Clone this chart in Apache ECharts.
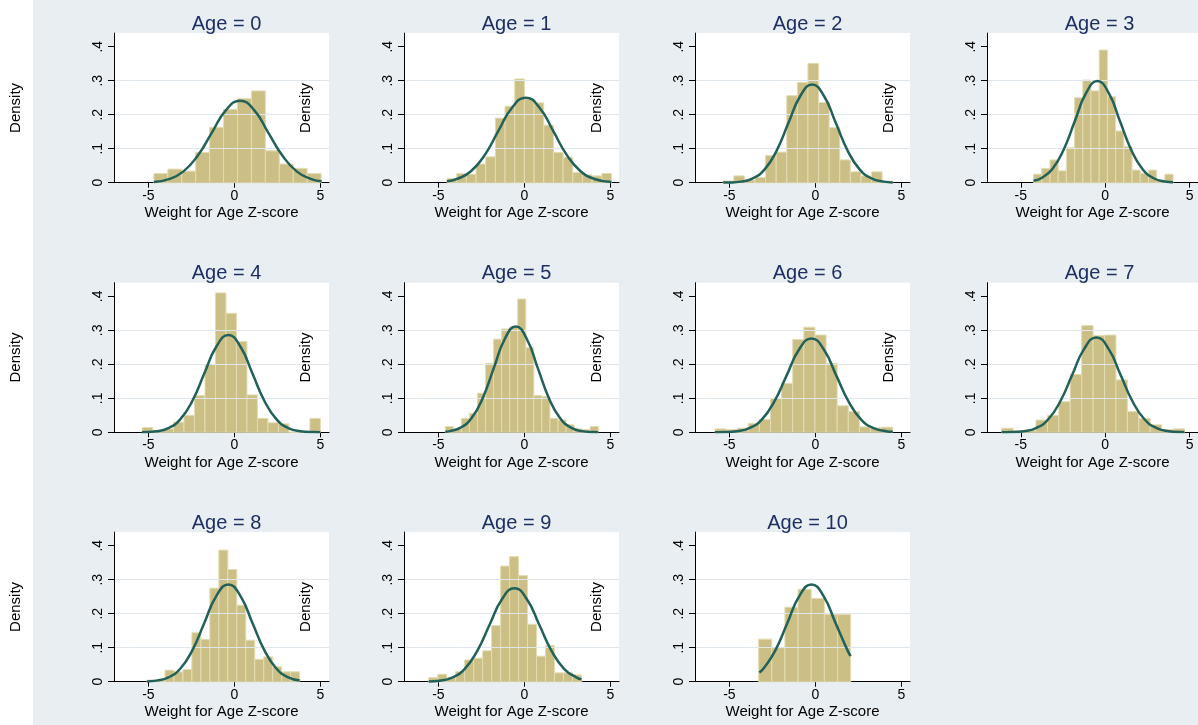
<!DOCTYPE html>
<html>
<head>
<meta charset="utf-8">
<script src="https://cdn.jsdelivr.net/npm/echarts@6/dist/echarts.min.js"></script>
<style>
html,body{margin:0;padding:0;background:#e8eef2;}
#chart{width:1198px;height:725px;}
</style>
</head>
<body>
<div id="chart"></div>
<script>
// ---- data ----
const ages = ['0','1','2','3','4','5','6','7','8','9','10'];
const xTicks = [-5, 0, 5];
const yTicks = [0, 0.1, 0.2, 0.3, 0.4];
const yTickLabels = ['0', '.1', '.2', '.3', '.4'];
const xTitle = 'Weight for Age Z-score';
const yTitle = 'Density';

// histogram bins: first bin edge and bin width per panel
const binStart = [-4.68, -4.5, -5.36, -4.24, -5.37, -4.6, -5.84, -6.13, -5.08, -5.56, -3.3];
const binWidth = [0.81, 0.5625, 0.616, 0.486, 0.61, 0.468, 0.646, 0.677, 0.522, 0.522, 0.764];

const hist0 = [0.027, 0.04, 0.034, 0.089, 0.163, 0.216, 0.247, 0.27, 0.094, 0.055, 0.042, 0.027];
const hist1 = [0.012, 0.027, 0.025, 0.055, 0.076, 0.19, 0.225, 0.305, 0.245, 0.235, 0.169, 0.089, 0.075, 0.03, 0.023, 0.02, 0.027];
const hist2 = [0.005, 0.02, 0.008, 0.015, 0.08, 0.09, 0.256, 0.295, 0.351, 0.236, 0.162, 0.067, 0.032, 0.02, 0.032, 0.004];
const hist3 = [0.025, 0.042, 0.067, 0.035, 0.103, 0.25, 0.302, 0.27, 0.39, 0.253, 0.152, 0.106, 0.037, 0.027, 0.037, 0.008, 0.025];
const hist4 = [0.014, 0.006, 0.01, 0.03, 0.05, 0.108, 0.2, 0.41, 0.35, 0.267, 0.11, 0.041, 0.028, 0.025, 0, 0, 0.041];
const hist5 = [0.017, 0.01, 0.041, 0.056, 0.115, 0.203, 0.274, 0.304, 0.31, 0.392, 0.249, 0.108, 0.105, 0.041, 0.036, 0.022, 0.01, 0.008, 0.017];
const hist6 = [0.01, 0.008, 0.012, 0.026, 0.038, 0.1, 0.144, 0.273, 0.309, 0.286, 0.203, 0.078, 0.061, 0.016, 0.013, 0.015];
const hist7 = [0.012, 0.005, 0.005, 0.036, 0.05, 0.09, 0.17, 0.314, 0.285, 0.286, 0.154, 0.061, 0.041, 0.022, 0.008, 0.01];
const hist8 = [0.005, 0.003, 0.034, 0.029, 0.036, 0.144, 0.124, 0.275, 0.387, 0.33, 0.225, 0.122, 0.066, 0.073, 0.044, 0.029, 0.029];
const hist9 = [0.012, 0.022, 0.012, 0.03, 0.064, 0.069, 0.091, 0.165, 0.34, 0.368, 0.312, 0.169, 0.075, 0.106, 0.026, 0.026, 0.02];
const hist10 = [0.125, 0.1, 0.219, 0.272, 0.245, 0.198, 0.198];

// normal density overlay
const curveX0 = [-4.68, -3.81, -2.98, -2.15, -1.325, -0.5, 0.33, 1.16, 1.985, 2.81, 3.64, 4.47, 5.07];
const curveY0 = [0.0024, 0.0106, 0.0326, 0.0783, 0.146, 0.2127, 0.241, 0.2127, 0.146, 0.0783, 0.0326, 0.0106, 0.004];
const curveX1 = [-4.5, -3.91, -3.11, -2.31, -1.52, -0.72, 0.08, 0.88, 1.68, 2.47, 3.27, 4.07, 5.06];
const curveY1 = [0.0041, 0.011, 0.0338, 0.0812, 0.1516, 0.2206, 0.25, 0.2206, 0.1516, 0.0812, 0.0338, 0.011, 0.0019];
const curveX2 = [-5.36, -5.02, -4.33, -3.64, -2.95, -2.26, -1.57, -0.88, -0.19, 0.5, 1.19, 1.88, 2.57, 3.26, 3.95, 4.5];
const curveY2 = [0.0003, 0.0006, 0.0032, 0.0127, 0.0391, 0.0938, 0.1753, 0.255, 0.289, 0.255, 0.1753, 0.0938, 0.0391, 0.0127, 0.0032, 0.0009];
const curveX3 = [-4.24, -3.795, -3.128, -2.46, -1.794, -1.127, -0.46, 0.207, 0.874, 1.54, 2.208, 2.875, 3.54, 4.02];
const curveY3 = [0.0055, 0.0131, 0.0405, 0.0971, 0.1813, 0.2639, 0.299, 0.2639, 0.1813, 0.0971, 0.0405, 0.0131, 0.0033, 0.0011];
const curveX4 = [-5.37, -4.53, -3.835, -3.138, -2.44, -1.744, -1.047, -0.35, 0.347, 1.044, 1.74, 2.438, 3.135, 3.83, 4.53, 5.0];
const curveY4 = [0.0004, 0.0032, 0.0126, 0.0387, 0.0929, 0.1735, 0.2524, 0.286, 0.2524, 0.1735, 0.0929, 0.0387, 0.0126, 0.0032, 0.0006, 0.0002];
const curveX5 = [-4.6, -4.35, -3.71, -3.07, -2.42, -1.78, -1.14, -0.5, 0.14, 0.78, 1.42, 2.07, 2.71, 3.35, 3.99, 4.29];
const curveY5 = [0.0019, 0.0035, 0.0137, 0.0421, 0.101, 0.1886, 0.2745, 0.311, 0.2745, 0.1886, 0.101, 0.0421, 0.0137, 0.0035, 0.0007, 0.0003];
const curveX6 = [-5.84, -5.28, -4.56, -3.84, -3.12, -2.4, -1.67, -0.95, -0.23, 0.49, 1.21, 1.94, 2.66, 3.38, 4.1, 4.5];
const curveY6 = [0.0001, 0.0006, 0.0031, 0.0121, 0.0373, 0.0896, 0.1674, 0.2436, 0.276, 0.2436, 0.1674, 0.0896, 0.0373, 0.0121, 0.0031, 0.0013];
const curveX7 = [-6.13, -5.525, -4.81, -4.095, -3.38, -2.665, -1.95, -1.235, -0.52, 0.195, 0.91, 1.625, 2.34, 3.055, 3.77, 4.485, 4.7];
const curveY7 = [0.0001, 0.0006, 0.0031, 0.0122, 0.0377, 0.0906, 0.1692, 0.2462, 0.279, 0.2462, 0.1692, 0.0906, 0.0377, 0.0122, 0.0031, 0.0006, 0.0004];
const curveX8 = [-5.08, -4.53, -3.835, -3.138, -2.44, -1.744, -1.047, -0.35, 0.347, 1.044, 1.74, 2.438, 3.135, 3.8];
const curveY8 = [0.0009, 0.0032, 0.0126, 0.0387, 0.0929, 0.1735, 0.2524, 0.286, 0.2524, 0.1735, 0.0929, 0.0387, 0.0126, 0.0034];
const curveX9 = [-5.56, -4.93, -4.205, -3.48, -2.755, -2.03, -1.305, -0.58, 0.145, 0.87, 1.595, 2.32, 3.045, 3.32];
const curveY9 = [0.0008, 0.003, 0.0121, 0.0372, 0.0893, 0.1668, 0.2427, 0.275, 0.2427, 0.1668, 0.0893, 0.0372, 0.0121, 0.0074];
const curveX10 = [-3.26, -3.018, -2.321, -1.624, -0.927, -0.23, 0.467, 1.164, 1.861, 2.05];
const curveY10 = [0.027, 0.0387, 0.0929, 0.1735, 0.2524, 0.286, 0.2524, 0.1735, 0.0929, 0.075];

const hists = [hist0, hist1, hist2, hist3, hist4, hist5, hist6, hist7, hist8, hist9, hist10];
const curvesX = [curveX0, curveX1, curveX2, curveX3, curveX4, curveX5, curveX6, curveX7, curveX8, curveX9, curveX10];
const curvesY = [curveY0, curveY1, curveY2, curveY3, curveY4, curveY5, curveY6, curveY7, curveY8, curveY9, curveY10];

// ---- layout / style ----
const FONT = '"Liberation Sans", Arial, sans-serif';
const colLeft = [114, 404, 695, 987];
const rowTop = [33.1, 282.7, 532.1];
const gridW = 215, gridH = 149.6;
const titleTop = [9, 258, 508];
const BAR_FILL = '#cbbf85', BAR_EDGE = '#e3dcb3', LINE = '#21615a', TITLE_COLOR = '#1e2f64';

const grids = [], xAxes = [], yAxes = [], series = [], titles = [];
ages.forEach((age, i) => {
  const row = Math.floor(i / 4), col = i % 4;
  grids.push({left: colLeft[col], top: rowTop[row], width: gridW, height: gridH,
    show: true, backgroundColor: '#ffffff', borderWidth: 0, containLabel: false});
  titles.push({text: 'Age = ' + age, left: colLeft[col] + gridW / 2, top: titleTop[row], textAlign: 'center',
    textStyle: {fontFamily: FONT, fontSize: 20, fontWeight: 'normal', color: TITLE_COLOR}});
  xAxes.push({type: 'value', gridIndex: i, min: -7, max: 5.5,
    axisLine: {show: true, onZero: false, lineStyle: {color: '#000', width: 1}},
    axisTick: {show: true, length: 5, customValues: xTicks, lineStyle: {color: '#000'}},
    axisLabel: {customValues: xTicks, fontFamily: FONT, fontSize: 14, color: '#000', margin: 6},
    splitLine: {show: false},
    name: xTitle, nameLocation: 'middle', nameGap: 23,
    nameTextStyle: {fontFamily: FONT, fontSize: 15, color: '#000'}});
  yAxes.push({type: 'value', gridIndex: i, min: 0, max: 0.44, z: 3, position: 'left',
    axisLine: {show: true, onZero: false, lineStyle: {color: '#000', width: 1}},
    axisTick: {show: true, length: 6, customValues: yTicks, lineStyle: {color: '#000'}},
    axisLabel: {customValues: yTicks, rotate: 90, margin: 9, fontFamily: FONT, fontSize: 14, color: '#000',
      formatter: v => { const k = yTicks.findIndex(t => Math.abs(t - v) < 1e-9); return k >= 0 ? yTickLabels[k] : ''; }},
    splitLine: {show: true, showMinLine: false, showMaxLine: false, lineStyle: {color: '#dfe7ec', width: 1}},
    name: yTitle, nameLocation: 'middle', nameGap: 91, nameRotate: 90,
    nameTextStyle: {fontFamily: FONT, fontSize: 15, color: '#000'}});
  const bins = hists[i].map((h, k) => [binStart[i] + k * binWidth[i], binStart[i] + (k + 1) * binWidth[i], h]);
  series.push({type: 'custom', xAxisIndex: i, yAxisIndex: i, data: bins, encode: {x: [0, 1], y: 2}, z: 2,
    renderItem: (params, api) => {
      const p0 = api.coord([api.value(0), 0]);
      const p1 = api.coord([api.value(1), api.value(2)]);
      return {type: 'rect', shape: {x: p0[0], y: p1[1], width: p1[0] - p0[0], height: p0[1] - p1[1]},
        style: {fill: BAR_FILL, stroke: BAR_EDGE, lineWidth: 1}};
    }});
  series.push({type: 'line', xAxisIndex: i, yAxisIndex: i, z: 3, smooth: true, showSymbol: false, silent: true,
    data: curvesX[i].map((x, k) => [x, curvesY[i][k]]),
    lineStyle: {color: LINE, width: 2.5}});
});

const chart = echarts.init(document.getElementById('chart'), null, {renderer: 'canvas'});
chart.setOption({
  animation: false,
  backgroundColor: '#e8eef2',
  title: titles,
  grid: grids,
  xAxis: xAxes,
  yAxis: yAxes,
  series: series,
  graphic: [{type: 'rect', left: 0, top: 0, z: -100, shape: {width: 33, height: 725}, style: {fill: '#ffffff'}}]
});
</script>
</body>
</html>
